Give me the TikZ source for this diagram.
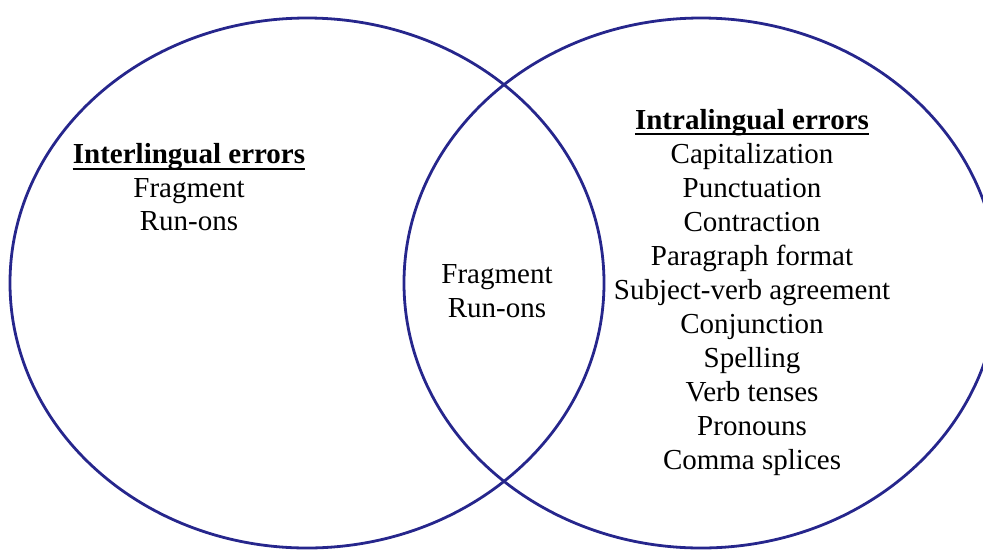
\documentclass[tikz,border=0pt]{standalone}
\usepackage{fontspec}
\setmainfont{Liberation Serif}
\usepackage{tikz}
\usetikzlibrary{positioning}
\definecolor{vb}{RGB}{38, 38, 140}

\tikzset{
    ring/.style={vb, line width=2.8pt},
    entry/.style={anchor=base, inner sep=0pt, font=\fontsize{29}{33}\selectfont},
    head/.style={entry, font=\fontsize{29}{33}\selectfont\bfseries},
    uline/.style={black, line width=2.2pt}
}

\begin{document}
\begin{tikzpicture}[x=1pt, y=-1pt]
			\useasboundingbox (0,0) rectangle (983,550);

			% Circles
			\draw[ring] (307,283) ellipse [x radius=297pt, y radius=265pt];
			\draw[ring] (701,283) ellipse [x radius=297pt, y radius=265pt];

			% Left: interlingual
			\node[head] (interhead) at (189,163) {Interlingual errors};
			\draw[uline] ([yshift=-6pt]interhead.base west) -- ([yshift=-6pt]interhead.base east);
			\node[entry] (interfrag) at (189,197) {Fragment};
			\node[entry] (interrun) at (189,230) {Run-ons};

			% Overlap
			\node[entry] (bothfrag) at (497,283) {Fragment};
			\node[entry] (bothrun) at (497,317) {Run-ons};

			% Right: intralingual
			\node[head] (intrahead) at (752,129) {Intralingual errors};
			\draw[uline] ([yshift=-5pt]intrahead.base west) -- ([yshift=-5pt]intrahead.base east);
			\node[entry] (capital) at (752,163) {Capitalization};
			\node[entry] (punct) at (752,197) {Punctuation};
			\node[entry] (contract) at (752,231) {Contraction};
			\node[entry] (parag) at (752,265) {Paragraph format};
			\node[entry] (subjverb) at (752,299) {Subject-verb agreement};
			\node[entry] (conj) at (752,333) {Conjunction};
			\node[entry] (spell) at (752,367) {Spelling};
			\node[entry] (tenses) at (752,401) {Verb tenses};
			\node[entry] (pronoun) at (752,435) {Pronouns};
			\node[entry] (comma) at (752,469) {Comma splices};
		\end{tikzpicture}
\end{document}
